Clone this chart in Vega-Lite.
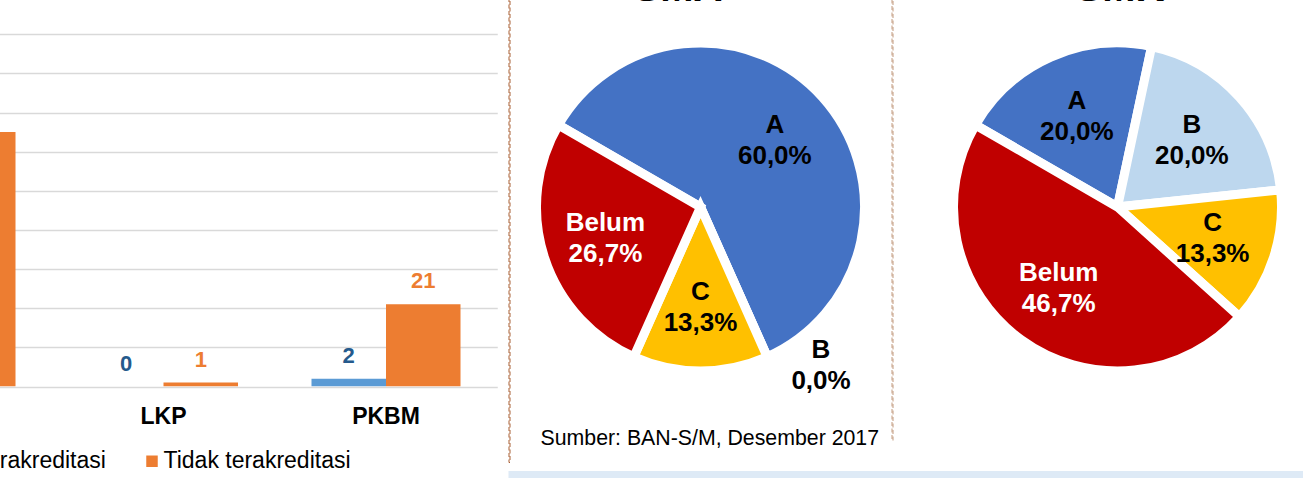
{
  "$schema": "https://vega.github.io/schema/vega-lite/v6.json",
  "autosize": "none",
  "padding": {"left": -170.25, "top": -44, "right": 1473.25, "bottom": 522},
  "background": "white",
  "bounds": "flush",
  "spacing": 10.75,
  "resolve": {"scale": {"color": "independent", "theta": "independent"}, "legend": {"color": "independent"}},
  "config": {
    "view": {"stroke": null},
    "font": "Liberation Sans",
    "locale": {"number": {"decimal": ",", "thousands": ".", "grouping": [3], "currency": ["Rp", ""]}}
  },
  "hconcat": [
    {
      "width": 667.5,
      "height": 430.5,
      "data": {"values": [
        {"cat": "SKB", "status": "Terakreditasi", "value": 10},
        {"cat": "SKB", "status": "Tidak terakreditasi", "value": 65},
        {"cat": "LKP", "status": "Terakreditasi", "value": 0},
        {"cat": "LKP", "status": "Tidak terakreditasi", "value": 1},
        {"cat": "PKBM", "status": "Terakreditasi", "value": 2},
        {"cat": "PKBM", "status": "Tidak terakreditasi", "value": 21}
      ]},
      "encoding": {
        "x": {"field": "cat", "type": "nominal", "sort": ["SKB", "LKP", "PKBM"],
          "scale": {"paddingInner": 0.3303, "paddingOuter": 0.16515},
          "axis": {"title": null, "domain": false, "ticks": false, "tickSize": 0, "labelAngle": 0,
            "labelFontSize": 23, "labelFontWeight": "bold", "labelColor": "#000000", "labelPadding": 18.5, "grid": false}},
        "xOffset": {"field": "status", "type": "nominal", "sort": ["Terakreditasi", "Tidak terakreditasi"]},
        "y": {"field": "value", "type": "quantitative", "scale": {"domain": [0, 110], "nice": false},
          "axis": {"title": null, "values": [0, 10, 20, 30, 40, 50, 60, 70, 80, 90, 100], "labels": false, "ticks": false,
            "domain": false, "grid": true, "gridColor": "#D9D9D9", "gridWidth": 1.5}}
      },
      "layer": [
        {
          "mark": {"type": "bar", "clip": true},
          "encoding": {
            "color": {"field": "status", "type": "nominal", "sort": ["Terakreditasi", "Tidak terakreditasi"],
              "scale": {"domain": ["Terakreditasi", "Tidak terakreditasi"], "range": ["#5B9BD5", "#ED7D31"]},
              "legend": {"title": null, "orient": "none", "direction": "horizontal", "legendX": 122.75, "legendY": 493.5,
                "symbolType": "square", "symbolSize": 132, "symbolStrokeWidth": 0, "labelFontSize": 23,
                "labelColor": "#000000", "labelOffset": 0, "columnPadding": 34, "padding": 0, "labelLimit": 400}}
          }
        },
        {
          "mark": {"type": "text", "baseline": "alphabetic", "dy": -16, "fontSize": 22, "fontWeight": "bold", "clip": true},
          "encoding": {
            "text": {"field": "value", "type": "quantitative"},
            "color": {"condition": {"test": "datum.status === 'Terakreditasi'", "value": "#255A8C"}, "value": "#ED7D31"}
          }
        }
      ]
    },
    {
      "bounds": "flush",
      "spacing": 515,
      "resolve": {"scale": {"color": "independent", "theta": "independent"}, "legend": {"color": "independent"}},
      "vconcat": [
        {
          "bounds": "flush",
          "spacing": 9,
          "resolve": {"scale": {"color": "independent", "theta": "independent"}, "legend": {"color": "independent"}},
          "hconcat": [
            {
              "width": 1, "height": 506,
              "data": {"values": []},
              "mark": "rule",
              "encoding": {},
              "view": {"stroke": "#A85E32", "strokeDash": [4, 2.5], "strokeWidth": 1}
            },
            {
              "width": 364, "height": 502,
              "title": {"text": "SMA", "orient": "top", "frame": "group", "anchor": "middle", "offset": -53, "dx": -22.5,
                "fontSize": 40, "fontWeight": "bold", "color": "#000000"},
              "data": {"values": [
                {"cat": "A", "pct": 0.6},
                {"cat": "B", "pct": 0},
                {"cat": "C", "pct": 0.1333},
                {"cat": "Belum", "pct": 0.2667}
              ]},
              "transform": [{"calculate": "indexof(['A','B','C','Belum'], datum.cat)", "as": "ord"}],
              "encoding": {
                "theta": {"field": "pct", "type": "quantitative", "stack": true, "scale": {"range": [5.23599, 11.51917]}},
                "order": {"field": "ord", "type": "quantitative"}
              },
              "layer": [
                {
                  "mark": {"type": "arc", "outerRadius": 164, "stroke": "white", "strokeWidth": 9},
                  "encoding": {"color": {"field": "cat", "type": "nominal",
                    "scale": {"domain": ["A", "B", "C", "Belum"], "range": ["#4472C4", "#BDD7EE", "#FFC000", "#C00000"]}, "legend": null}}
                },
                {
                  "mark": {"type": "text", "radius": 100, "dy": -15, "fontSize": 26, "fontWeight": "bold"},
                  "encoding": {
                    "text": {"condition": {"test": "datum.pct > 0", "field": "cat", "type": "nominal"}, "value": ""},
                    "color": {"condition": {"test": "datum.cat === 'Belum'", "value": "#ffffff"}, "value": "#000000"}
                  }
                },
                {
                  "mark": {"type": "text", "radius": 100, "dy": 16, "fontSize": 26, "fontWeight": "bold"},
                  "encoding": {
                    "text": {"condition": {"test": "datum.pct > 0", "field": "pct", "type": "quantitative", "format": ".1%"}, "value": ""},
                    "color": {"condition": {"test": "datum.cat === 'Belum'", "value": "#ffffff"}, "value": "#000000"}
                  }
                },
                {
                  "mark": {"type": "text", "radius": 193, "dx": 42, "dy": -33, "fontSize": 26, "fontWeight": "bold", "color": "#000000"},
                  "encoding": {
                    "text": {"condition": {"test": "datum.pct == 0", "field": "cat", "type": "nominal"}, "value": ""}
                  }
                },
                {
                  "mark": {"type": "text", "radius": 193, "dx": 42, "dy": -2, "fontSize": 26, "fontWeight": "bold", "color": "#000000"},
                  "encoding": {
                    "text": {"condition": {"test": "datum.pct == 0", "field": "pct", "type": "quantitative", "format": ".1%"}, "value": ""}
                  }
                }
              ]
            },
            {
              "width": 1, "height": 484,
              "data": {"values": []},
              "mark": "rule",
              "encoding": {},
              "view": {"stroke": "#C29A7E", "strokeDash": [4, 2.5], "strokeWidth": 1}
            },
            {
              "width": 432, "height": 502,
              "title": {"text": "SMK", "orient": "top", "frame": "group", "anchor": "middle", "offset": -53, "dx": 2.5,
                "fontSize": 40, "fontWeight": "bold", "color": "#000000"},
              "data": {"values": [
                {"cat": "A", "pct": 0.2},
                {"cat": "B", "pct": 0.2},
                {"cat": "C", "pct": 0.1333},
                {"cat": "Belum", "pct": 0.4667}
              ]},
              "transform": [{"calculate": "indexof(['A','B','C','Belum'], datum.cat)", "as": "ord"}],
              "encoding": {
                "theta": {"field": "pct", "type": "quantitative", "stack": true, "scale": {"range": [5.23599, 11.51917]}},
                "order": {"field": "ord", "type": "quantitative"}
              },
              "layer": [
                {
                  "mark": {"type": "arc", "outerRadius": 164, "stroke": "white", "strokeWidth": 9},
                  "encoding": {"color": {"field": "cat", "type": "nominal",
                    "scale": {"domain": ["A", "B", "C", "Belum"], "range": ["#4472C4", "#BDD7EE", "#FFC000", "#C00000"]}, "legend": null}}
                },
                {
                  "mark": {"type": "text", "radius": 100, "dy": -15, "fontSize": 26, "fontWeight": "bold"},
                  "encoding": {
                    "text": {"field": "cat", "type": "nominal"},
                    "color": {"condition": {"test": "datum.cat === 'Belum'", "value": "#ffffff"}, "value": "#000000"}
                  }
                },
                {
                  "mark": {"type": "text", "radius": 100, "dy": 16, "fontSize": 26, "fontWeight": "bold"},
                  "encoding": {
                    "text": {"field": "pct", "type": "quantitative", "format": ".1%"},
                    "color": {"condition": {"test": "datum.cat === 'Belum'", "value": "#ffffff"}, "value": "#000000"}
                  }
                }
              ]
            }
          ]
        },
        {
          "width": 800, "height": 12,
          "title": {"text": "Sumber: BAN-S/M, Desember 2017", "orient": "top", "frame": "group", "anchor": "start",
            "dx": 32, "offset": 21.6, "fontSize": 21.3, "fontWeight": "normal", "color": "#000000"},
          "data": {"values": []},
          "mark": "rule",
          "encoding": {},
          "view": {"fill": "#DEEAF6", "stroke": null}
        }
      ]
    }
  ]
}
